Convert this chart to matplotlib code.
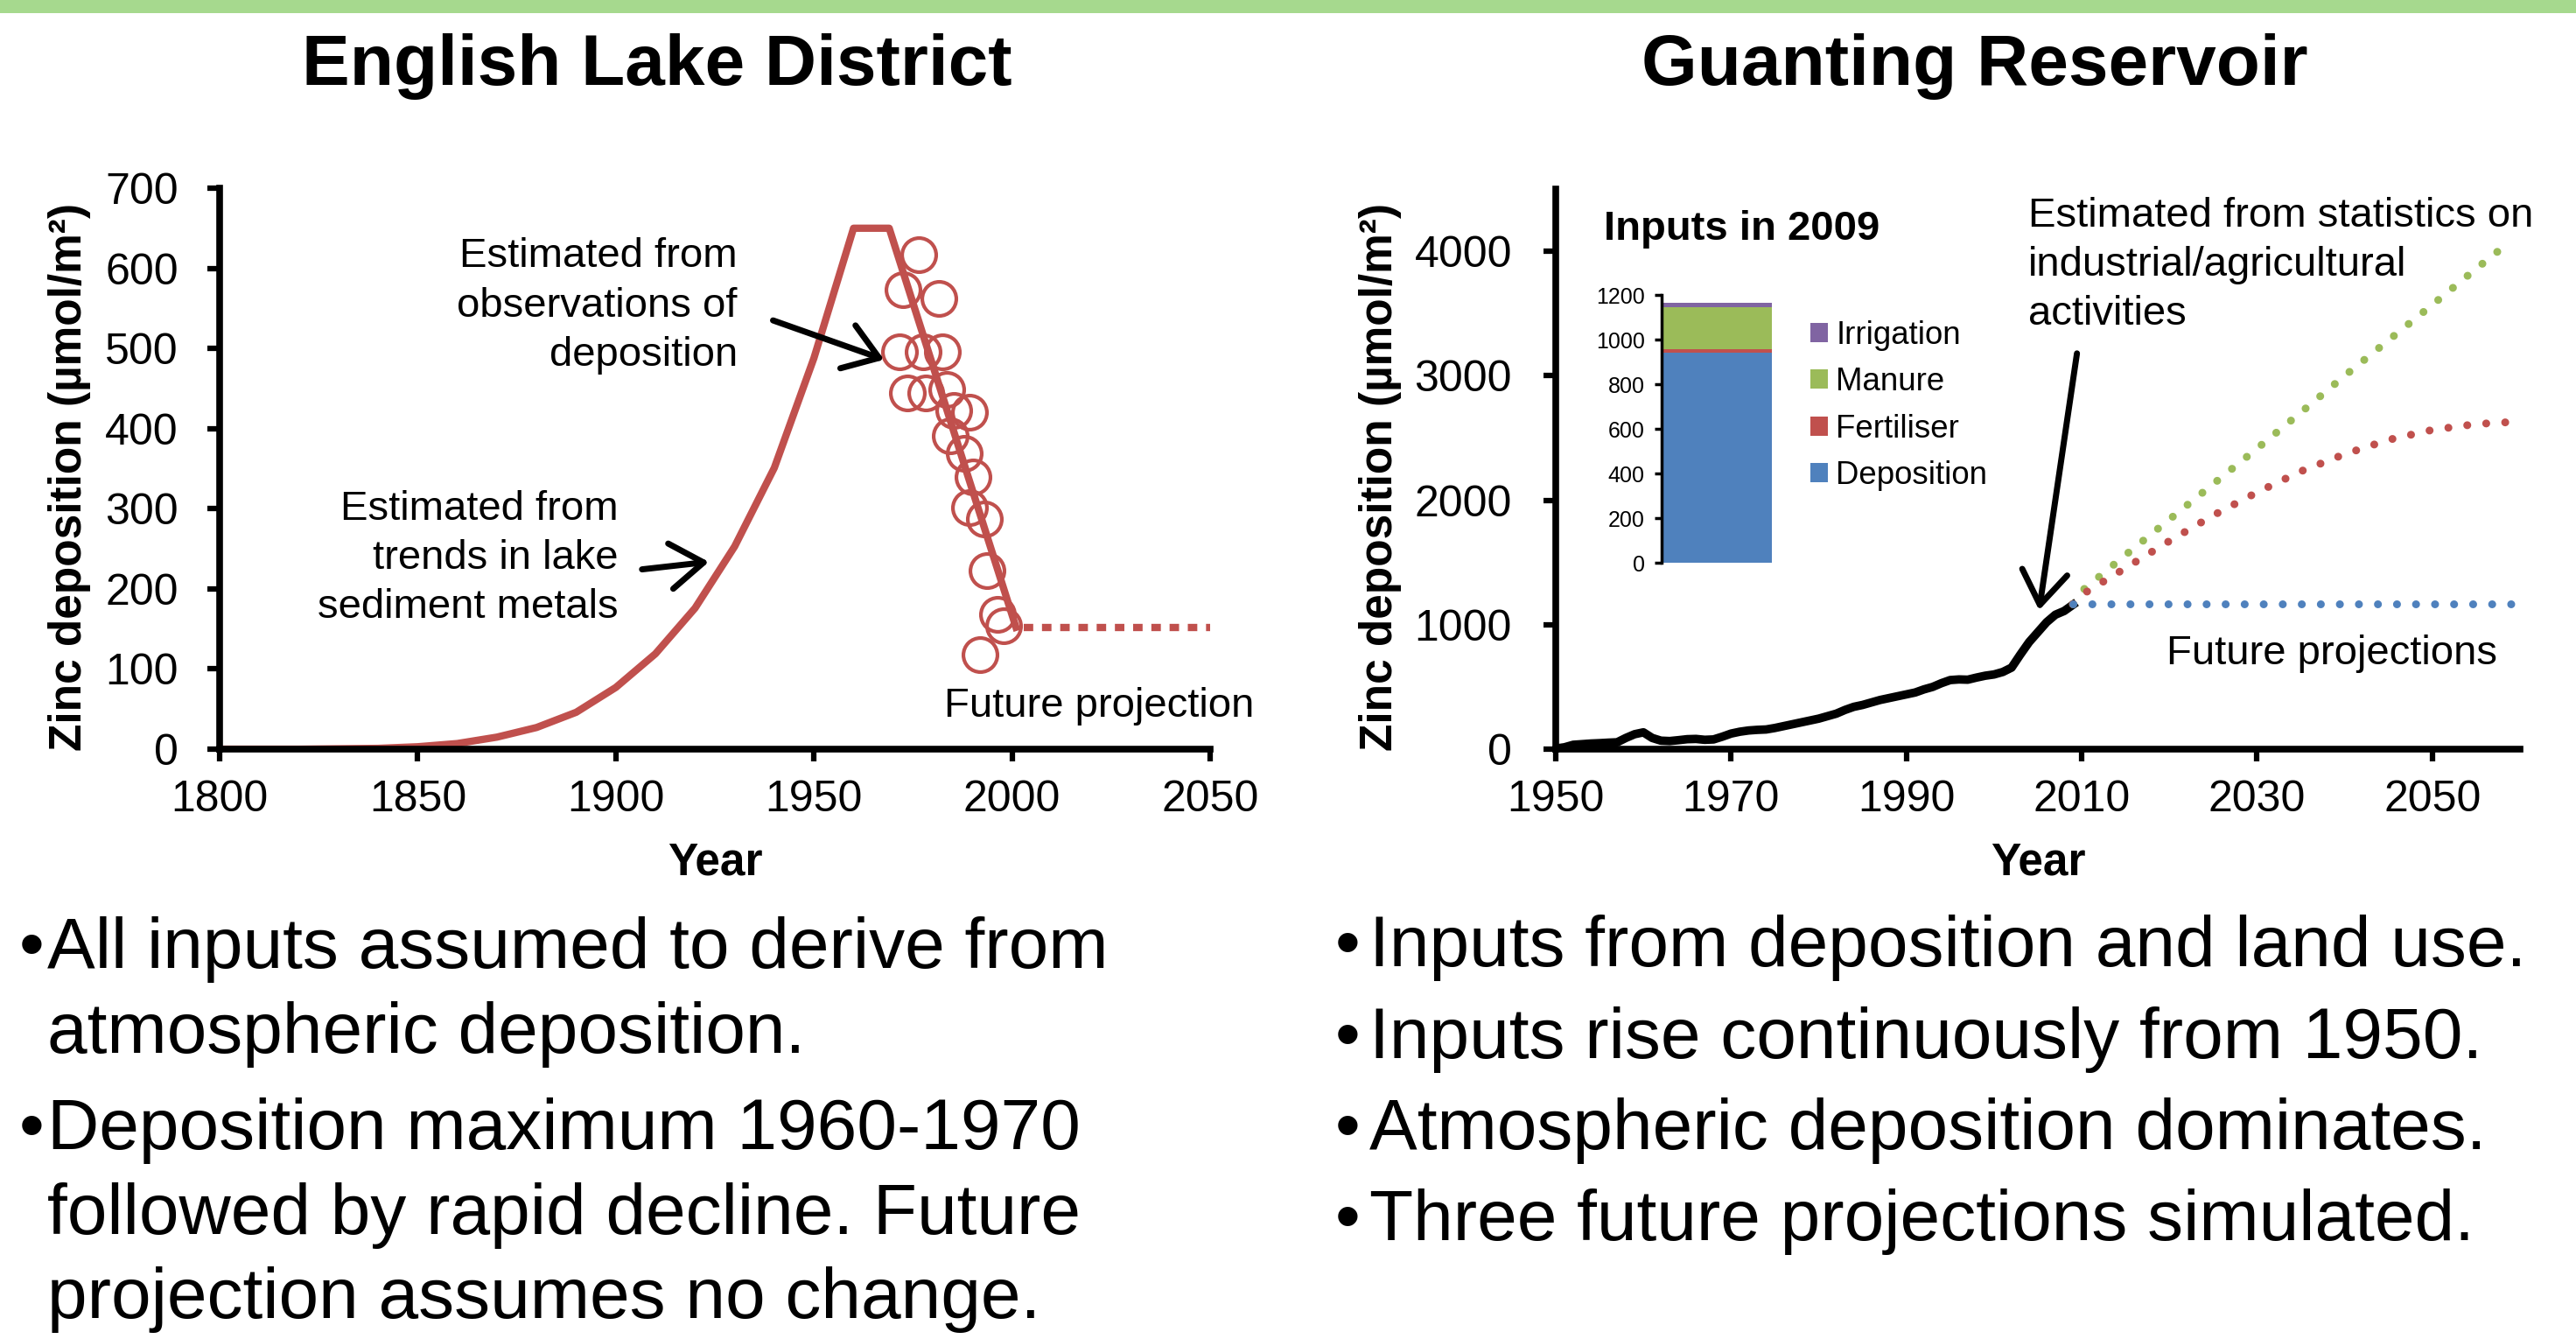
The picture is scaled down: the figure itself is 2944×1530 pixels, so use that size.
import matplotlib.pyplot as plt
from matplotlib.patches import Rectangle

plt.rcParams['font.family'] = ['Liberation Sans', 'DejaVu Sans']

W, H = 2944, 1530

# English Lake District - reconstructed deposition (umol/m2)
lake_years = [1800, 1810, 1820, 1830, 1840, 1850, 1860, 1870, 1880, 1890, 1900,
              1910, 1920, 1930, 1940, 1950, 1960, 1969, 2001]
lake_zn = [0, 0, 0, 0.5, 1, 3, 7, 15, 27, 46, 77, 119, 176, 253, 351, 488, 650, 650, 152]

# observations of deposition
obs_years = [1976.5, 1972.4, 1981.6, 1971.7, 1977.6, 1982.4, 1973.5, 1978.3, 1983.5, 1985.3,
             1989.3, 1984.5, 1987.9, 1990.1, 1989.3, 1993.0, 1993.7, 1996.3, 1997.8, 1991.9]
obs_zn = [617, 573, 562, 496, 496, 496, 445, 445, 449, 423,
          420, 391, 369, 340, 301, 287, 223, 168, 154, 118]

lake_proj_years = [2003, 2050]
lake_proj_zn = [152, 152]

# Guanting Reservoir - total inputs
gt_years = list(range(1950, 2010))
gt_zn = [5, 15, 35, 40, 45, 48, 52, 55, 90, 120,
         135, 90, 68, 65, 72, 80, 82, 75, 78, 100,
         125, 140, 150, 155, 158, 170, 185, 200, 215, 230,
         245, 265, 285, 315, 340, 355, 375, 395, 410, 425,
         440, 455, 480, 500, 530, 555, 560, 558, 575, 590,
         600, 620, 655, 760, 860, 940, 1020, 1080, 1110, 1160]

proj_years = [2009, 2010, 2015, 2020, 2025, 2030, 2035, 2040, 2045, 2050, 2055, 2059]
proj_flat = [1165, 1165, 1165, 1165, 1165, 1165, 1165, 1165, 1165, 1165, 1165, 1165]
proj_mid = [1165, 1240, 1455, 1672, 1878, 2063, 2232, 2370, 2485, 2565, 2612, 2628]
proj_high = [1165, 1270, 1560, 1845, 2130, 2415, 2705, 3000, 3285, 3570, 3860, 4085]

# inputs in 2009, stacked bottom to top
input_labels = ['Deposition', 'Fertiliser', 'Manure', 'Irrigation']
input_values = [940, 18, 187, 20]

RED = '#C0504D'
BLUE = '#4F81BD'
GREEN = '#9BBB59'
PURPLE = '#8064A2'
input_colors = [BLUE, RED, GREEN, PURPLE]

ARROW = dict(arrowstyle='->, head_length=0.8, head_width=0.55',
             lw=5, color='black', mutation_scale=34)


def fx(px):
    return px / W


def fy(py):
    return 1 - py / H


def style_axes(ax, ypad):
    ax.spines['top'].set_visible(False)
    ax.spines['right'].set_visible(False)
    for s in ['left', 'bottom']:
        ax.spines[s].set_linewidth(5.5)
    ax.tick_params(direction='out', length=10, width=4.5, labelsize=36)
    ax.tick_params(axis='x', pad=15)
    ax.tick_params(axis='y', pad=ypad)


fig = plt.figure(figsize=(W / 100, H / 100), dpi=100)
fig.add_artist(Rectangle((0, fy(15)), 1, 15 / H, transform=fig.transFigure,
                         color='#A6D98E', lw=0))

# ---------------- left panel ----------------
ax1 = fig.add_axes([fx(251), fy(856), (1383 - 251) / W, (856 - 215) / H])
ax1.plot(lake_years, lake_zn, color=RED, lw=6)
ax1.plot(lake_proj_years, lake_proj_zn, color=RED, lw=6, linestyle=(0, (1.3, 1.2)))
ax1.plot(obs_years, obs_zn, 'o', ms=28, mfc='none', mec=RED, mew=3, clip_on=False)
ax1.set_xlim(1800, 2050)
ax1.set_ylim(0, 700)
ax1.set_xticks(range(1800, 2051, 50))
ax1.set_yticks(range(0, 701, 100))
style_axes(ax1, 24)

ax1.text(1930.7, 553, 'Estimated from\nobservations of\ndeposition', fontsize=34,
         ha='right', va='center', multialignment='right', linespacing=1.36)
ax1.annotate('', xy=(1968.3, 485), xytext=(1939.1, 536), arrowprops=ARROW)
ax1.text(1900.7, 238, 'Estimated from\ntrends in lake\nsediment metals', fontsize=34,
         ha='right', va='center', multialignment='right', linespacing=1.36)
ax1.annotate('', xy=(1924.1, 234), xytext=(1906, 224), arrowprops=ARROW)
ax1.text(1982.9, 53, 'Future projection', fontsize=34, ha='left', va='center')

# ---------------- right panel ----------------
ax2 = fig.add_axes([fx(1778), fy(856), (2880 - 1778) / W, (856 - 216) / H])
ax2.plot(gt_years, gt_zn, color='black', lw=7)
dots = (0, (0.01, 2.4))
ax2.plot(proj_years, proj_high, color=GREEN, lw=6.5, linestyle=dots, dash_capstyle='round')
ax2.plot(proj_years, proj_mid, color=RED, lw=6.5, linestyle=dots, dash_capstyle='round')
ax2.plot(proj_years, proj_flat, color=BLUE, lw=6.5, linestyle=dots, dash_capstyle='round')
ax2.set_xlim(1950, 2060)
ax2.set_ylim(0, 4500)
ax2.set_xticks(range(1950, 2051, 20))
ax2.set_yticks(range(0, 4001, 1000))
style_axes(ax2, 26)

ax2.text(2003.9, 3888, 'Estimated from statistics on\nindustrial/agricultural\nactivities',
         fontsize=34, ha='left', va='center', linespacing=1.36)
ax2.annotate('', xy=(2005.1, 1097), xytext=(2009.5, 3199), arrowprops=ARROW)
ax2.text(2019.7, 766, 'Future projections', fontsize=34, ha='left', va='center')

# inset: inputs in 2009
axi = fig.add_axes([fx(1899), fy(643), (2025 - 1899) / W, (643 - 337) / H])
axi.patch.set_alpha(0)
bottom = 0
for lbl, val, col in zip(input_labels, input_values, input_colors):
    axi.bar(0, val, width=1, bottom=bottom, align='edge', color=col, label=lbl)
    bottom += val
axi.set_xlim(0, 1)
axi.set_ylim(0, 1200)
axi.set_yticks(range(0, 1201, 200))
axi.set_xticks([])
for s in ['top', 'right', 'bottom']:
    axi.spines[s].set_visible(False)
axi.spines['left'].set_linewidth(2.5)
axi.tick_params(axis='y', direction='out', length=6, width=2.5, labelsize=18, pad=8)
handles, labels = axi.get_legend_handles_labels()
axi.legend(handles[::-1], labels[::-1], loc='upper left', frameon=False, fontsize=26.4,
           bbox_to_anchor=(fx(2069), fy(366)), bbox_transform=fig.transFigure,
           borderpad=0, borderaxespad=0, handlelength=0.55, handleheight=0.55,
           handletextpad=0.25, labelspacing=0.5)
fig.text(fx(1833), fy(274), 'Inputs in 2009', fontsize=34, weight='bold', va='baseline')

# axis labels
for xc in (80, 1578):
    fig.text(fx(xc), fy(545), 'Zinc deposition (µmol/m²)', fontsize=37, weight='bold',
             rotation=90, ha='center', va='center')
fig.text(fx(817), fy(986), 'Year', fontsize=37, weight='bold', ha='center', va='center')
fig.text(fx(2329), fy(986), 'Year', fontsize=37, weight='bold', ha='center', va='center')

# titles
fig.text(fx(751), fy(97), 'English Lake District', fontsize=59, weight='bold',
         ha='center', va='baseline')
fig.text(fx(2257), fy(97), 'Guanting Reservoir', fontsize=59, weight='bold',
         ha='center', va='baseline')

# bullet text
left_lines = [(True, 'All inputs assumed to derive from', 1106),
              (False, 'atmospheric deposition.', 1203),
              (True, 'Deposition maximum 1960-1970', 1313),
              (False, 'followed by rapid decline. Future', 1410),
              (False, 'projection assumes no change.', 1506)]
for bullet, line, yb in left_lines:
    if bullet:
        fig.text(fx(22), fy(yb), '•', fontsize=59, va='baseline')
    fig.text(fx(54), fy(yb), line, fontsize=59, va='baseline')

right_lines = ['Inputs from deposition and land use.',
               'Inputs rise continuously from 1950.',
               'Atmospheric deposition dominates.',
               'Three future projections simulated.']
for line, yb in zip(right_lines, [1104, 1209, 1313, 1417]):
    fig.text(fx(1526), fy(yb), '•', fontsize=59, va='baseline')
    fig.text(fx(1565), fy(yb), line, fontsize=59, va='baseline')

fig.savefig('out.png', dpi=100)
